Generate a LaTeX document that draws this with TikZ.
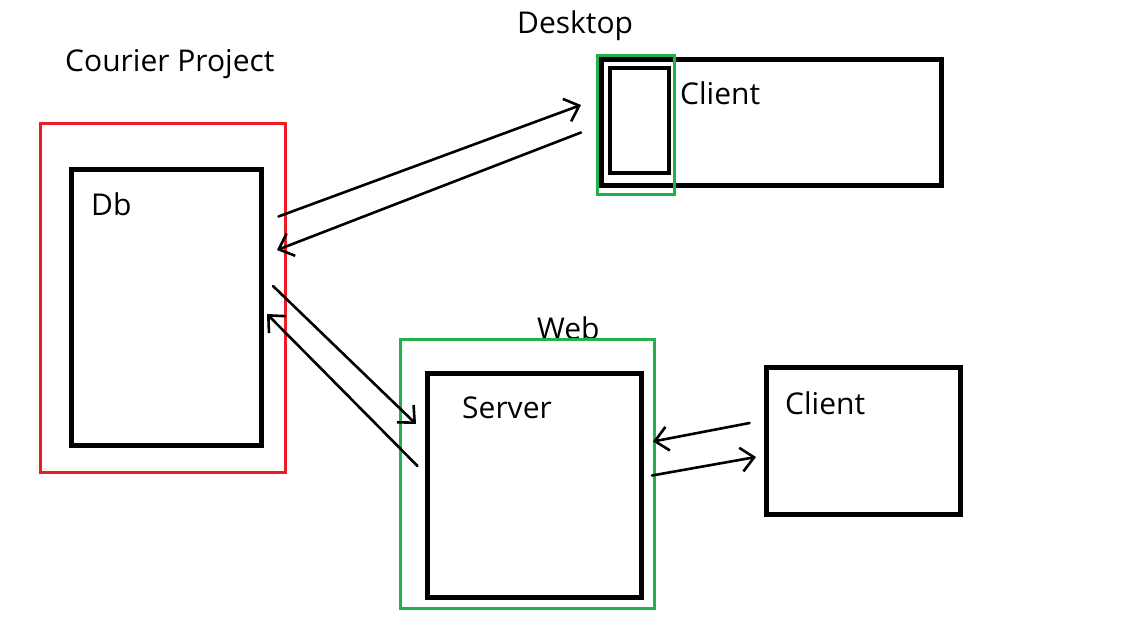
\documentclass[tikz,border=0pt]{standalone}
\usepackage{fontspec}
\setmainfont{Open Sans}
\usetikzlibrary{arrows.meta}
\definecolor{boxred}{RGB}{237,28,36}
\definecolor{boxgreen}{RGB}{34,177,76}
\begin{document}
\begin{tikzpicture}[x=1pt,y=-1pt,
  block/.style={draw=black, line width=5pt, fill=none, inner sep=0pt, minimum width=#1},
  group/.style={draw=#1, line width=3pt, inner sep=0pt},
  label/.style={anchor=base west, inner sep=0pt, font=\fontsize{30}{36}\selectfont},
  link/.style={line width=2.6pt, line cap=round, -{Straight Barb[length=13pt,width=24pt,line width=2.6pt]}}
]
\useasboundingbox (0,0) rectangle (1145,625);

% Courier Project: database
\node[label] (tproj) at (65,71) {Courier Project};
\node[group=boxred, minimum width=245.3pt, minimum height=348.7pt] (proj) at (162.7,298.2) {};
\node[block=189.8pt, minimum height=276.3pt] (db) at (166.4,307.7) {};
\node[label] (tdb) at (91,215) {Db};

% Desktop client
\node[label] (tdesk) at (517,33) {Desktop};
\node[block=340.3pt, minimum height=126.3pt] (dclient) at (771.2,122.2) {};
\node[draw, line width=4pt, inner sep=0pt, minimum width=59pt, minimum height=105pt] (dpart) at (639.8,120.5) {};
\node[group=boxgreen, minimum width=76.7pt, minimum height=138.7pt] (desk) at (635.9,124.7) {};
\node[label] (tdclient) at (680,104) {Client};

% Web: server and client
\node[label] (tweb) at (537,339) {Web};
\node[group=boxgreen, minimum width=254.5pt, minimum height=269pt] (web) at (527.3,474.2) {};
\node[block=213.8pt, minimum height=223.9pt] (server) at (534.4,485.3) {};
\node[label] (tserver) at (462,418) {Server};
\node[block=194.3pt, minimum height=147.3pt] (wclient) at (863.7,441.2) {};
\node[label] (twclient) at (785,414) {Client};

% connector end points
\coordinate (a1s) at (278.5,216.5);
\coordinate (a1e) at (581,105);
\coordinate (a2s) at (581,132.5);
\coordinate (a2e) at (277,250);
\coordinate (a3s) at (273,286);
\coordinate (a3e) at (416,424);
\coordinate (a4s) at (417.5,466);
\coordinate (a4e) at (267,314);
\coordinate (a5s) at (749.5,423);
\coordinate (a5e) at (653,441.5);
\coordinate (a6s) at (652,475.5);
\coordinate (a6e) at (756,457);

\draw[link] (a1s) -- (a1e);
\draw[link] (a2s) -- (a2e);
\draw[link] (a3s) -- (a3e);
\draw[link] (a4s) -- (a4e);
\draw[link] (a5s) -- (a5e);
\draw[link] (a6s) -- (a6e);
\end{tikzpicture}
\end{document}
